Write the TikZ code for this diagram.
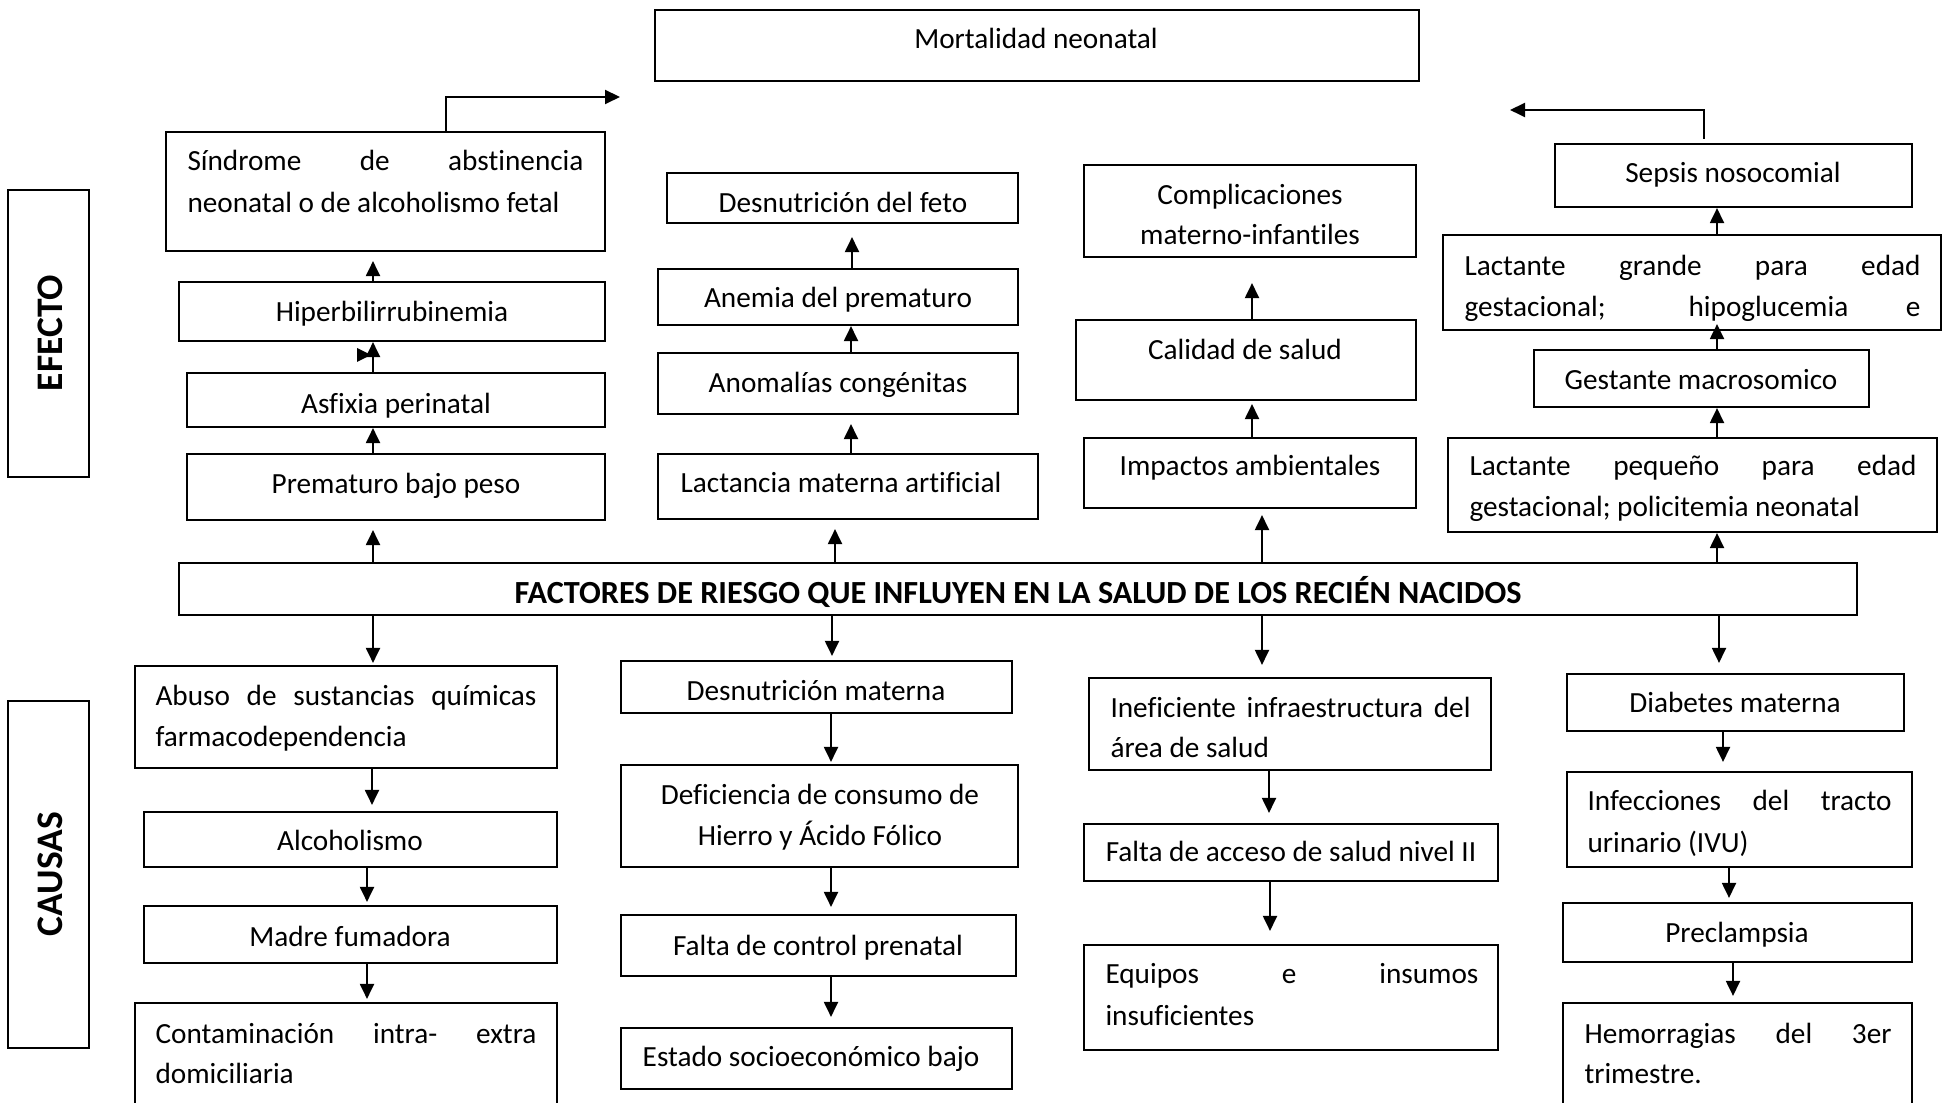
\documentclass[tikz,border=0pt]{standalone}
\usepackage{fontspec}
\setmainfont[Ligatures=NoCommon]{Carlito}
\usetikzlibrary{arrows.meta,fit}
\tikzset{
  box/.style={draw, line width=0.85pt, inner sep=0pt},
  txt/.style={font=\fontsize{11.7}{14}\selectfont, inner sep=0pt, yshift=-1.6pt},
  side/.style={font=\fontsize{15}{17}\selectfont\bfseries, inner sep=0pt, rotate=90},
  arr/.style={line width=0.8pt, -{Triangle[length=6pt,width=5.6pt]}},
}
\newcommand\bx[5]{\node[box, fit={(#2,#3) (#4,#5)}] (#1) {};}
\newcommand\txc[4]{\node[txt, anchor=mid] (#1) at (#2,#3) {#4};}
\newcommand\txl[4]{\node[txt, anchor=mid west] (#1) at (#2,#3) {#4};}
\newcommand\txj[5]{\node[txt, anchor=mid west] (#1) at (#2,#3) {\makebox[#4][s]{#5}};}
\newcommand\arrUp[4]{\coordinate (ax) at (#3,0);
  \draw[arr, shorten >=#4] (#1.north -| ax) -- (#2.south -| ax);}
\newcommand\arrDn[4]{\coordinate (ax) at (#3,0);
  \draw[arr, shorten >=#4] (#1.south -| ax) -- (#2.north -| ax);}
\begin{document}
\begin{tikzpicture}[x=0.4pt,y=-0.4pt]
\useasboundingbox (0,0) rectangle (1944,1103);
\clip (0,0) rectangle (1944,1103);
% side labels
\bx{efecto}{8}{190}{89}{477}
\node[side] (efectot) at (50,333) {EFECTO};
\bx{causas}{8}{701}{89}{1048}
\node[side] (causast) at (50,874) {CAUSAS};
% top
\bx{mort}{655}{10}{1419}{81}
\txc{mortt}{1036}{39}{Mortalidad neonatal}
% column 1 effects
\bx{sind}{166}{132}{605}{251}
\txj{sind1}{187}{161}{158.4pt}{Síndrome de abstinencia}
\txl{sind2}{187}{203}{neonatal o de alcoholismo fetal}
\bx{hiper}{179}{282}{605}{341}
\txc{hipert}{392}{312}{Hiperbilirrubinemia}
\bx{asf}{187}{373}{605}{427}
\txc{asft}{396}{404}{Asfixia perinatal}
\bx{prem}{187}{454}{605}{520}
\txc{premt}{396}{484}{Prematuro bajo peso}
% column 2 effects
\bx{desfeto}{667}{173}{1018}{223}
\txc{desfetot}{843}{203}{Desnutrición del feto}
\bx{anem}{658}{269}{1018}{325}
\txc{anemt}{838}{298}{Anemia del prematuro}
\bx{anom}{658}{353}{1018}{414}
\txc{anomt}{838}{383}{Anomalías congénitas}
\bx{lact}{658}{454}{1038}{519}
\txc{lactt}{841}{483}{Lactancia materna artificial}
% column 3 effects
\bx{compl}{1084}{165}{1416}{257}
\txc{compl1}{1250}{195}{Complicaciones}
\txc{compl2}{1250}{235}{materno-infantiles}
\bx{cal}{1076}{320}{1416}{400}
\txc{calt}{1245}{350}{Calidad de salud}
\bx{imp}{1084}{438}{1416}{508}
\txc{impt}{1250}{466}{Impactos ambientales}
% column 4 effects
\bx{sepsis}{1555}{144}{1912}{207}
\txc{sepsist}{1733}{173}{Sepsis nosocomial}
\bx{lactg}{1443}{235}{1941}{330}
\txj{lactg1}{1464}{266}{182.4pt}{Lactante grande para edad}
\txj{lactg2}{1464}{307}{182.4pt}{gestacional; hipoglucemia e}
\bx{gest}{1534}{350}{1869}{407}
\txc{gestt}{1701}{380}{Gestante macrosomico}
\bx{lactp}{1448}{438}{1937}{532}
\txj{lactp1}{1469}{466}{178.8pt}{Lactante pequeño para edad}
\txl{lactp2}{1469}{507}{gestacional; policitemia neonatal}
% central
\bx{fact}{179}{563}{1857}{615}
\node[txt, font=\fontsize{12.9}{15}\selectfont\bfseries, anchor=mid] (factt) at (1018,594) {FACTORES DE RIESGO QUE INFLUYEN EN LA SALUD DE LOS RECIÉN NACIDOS};
% causes column 1
\bx{abuso}{135}{666}{557}{768}
\txj{abuso1}{155}{696}{152.4pt}{Abuso de sustancias químicas}
\txl{abuso2}{155}{737}{farmacodependencia}
\bx{alc}{144}{812}{557}{867}
\txc{alct}{350}{841}{Alcoholismo}
\bx{madre}{144}{906}{557}{963}
\txc{madret}{350}{937}{Madre fumadora}
\bx{cont}{135}{1003}{557}{1130}
\txj{cont1}{155}{1034}{152.4pt}{Contaminación intra- extra}
\txl{cont2}{155}{1074}{domiciliaria}
% causes column 2
\bx{desmat}{621}{661}{1012}{713}
\txc{desmatt}{816}{691}{Desnutrición materna}
\bx{def}{621}{765}{1018}{867}
\txc{def1}{820}{795}{Deficiencia de consumo de}
\txc{def2}{820}{836}{Hierro y Ácido Fólico}
\bx{falta}{621}{915}{1016}{976}
\txc{faltat}{818}{946}{Falta de control prenatal}
\bx{estado}{621}{1028}{1012}{1089}
\txc{estadot}{811}{1057}{Estado socioeconómico bajo}
% causes column 3
\bx{inef}{1089}{678}{1491}{770}
\txj{inef1}{1110}{708}{144pt}{Ineficiente infraestructura del}
\txl{inef2}{1110}{748}{área de salud}
\bx{acceso}{1084}{824}{1498}{881}
\txc{accesot}{1291}{852}{Falta de acceso de salud nivel II}
\bx{equipos}{1084}{945}{1498}{1050}
\txj{equipos1}{1105}{974}{149.2pt}{Equipos e insumos}
\txl{equipos2}{1105}{1016}{insuficientes}
% causes column 4
\bx{diab}{1567}{674}{1904}{731}
\txc{diabt}{1735}{703}{Diabetes materna}
\bx{inf}{1567}{772}{1912}{867}
\txj{inf1}{1587}{801}{121.6pt}{Infecciones del tracto}
\txl{inf2}{1587}{843}{urinario (IVU)}
\bx{precl}{1563}{903}{1912}{962}
\txc{preclt}{1737}{933}{Preclampsia}
\bx{hem}{1563}{1003}{1912}{1130}
\txj{hem1}{1584}{1034}{122.8pt}{Hemorragias del 3er}
\txl{hem2}{1584}{1074}{trimestre.}
% upward connectors
\arrUp{fact}{prem}{373}{3.6pt}
\arrUp{prem}{asf}{373}{0pt}
\arrUp{asf}{hiper}{373}{0pt}
\arrUp{hiper}{sind}{373}{3.6pt}
\arrUp{fact}{lact}{835}{3.6pt}
\arrUp{lact}{anom}{851}{3.6pt}
\arrUp{anom}{anem}{851}{0pt}
\arrUp{anem}{desfeto}{852}{5.2pt}
\arrUp{fact}{imp}{1262}{2.4pt}
\arrUp{imp}{cal}{1252}{1.2pt}
\arrUp{cal}{compl}{1252}{10pt}
\arrUp{fact}{lactp}{1717}{0pt}
\arrUp{lactp}{gest}{1717}{0pt}
\arrUp{gest}{lactg}{1717}{-2.8pt}
\arrUp{lactg}{sepsis}{1717}{0pt}
% stray arrowhead mark
\fill (357,348) -- (371,355) -- (357,362) -- cycle;
% elbow connectors toward Mortalidad
\coordinate (sxl) at (446,0);
\coordinate (mL) at (620,97);
\draw[arr] (sind.north -| sxl) |- (mL);
\coordinate (sxr) at (1704,0);
\coordinate (mR) at (1510,110);
\draw[arr, shorten <=1.6pt] (sepsis.north -| sxr) |- (mR);
% downward connectors
\arrDn{fact}{abuso}{373}{0.8pt}
\arrDn{abuso}{alc}{372}{2.4pt}
\arrDn{alc}{madre}{367}{1.2pt}
\arrDn{madre}{cont}{367}{1.2pt}
\arrDn{fact}{desmat}{832}{1.6pt}
\arrDn{desmat}{def}{831}{0.8pt}
\arrDn{def}{falta}{831}{2.8pt}
\arrDn{falta}{estado}{831}{4pt}
\arrDn{fact}{inef}{1262}{4.8pt}
\arrDn{inef}{acceso}{1269}{4pt}
\arrDn{acceso}{equipos}{1270}{5.2pt}
\arrDn{fact}{diab}{1719}{4pt}
\arrDn{diab}{inf}{1723}{3.6pt}
\arrDn{inf}{precl}{1729}{1.6pt}
\arrDn{precl}{hem}{1733}{2.4pt}
\end{tikzpicture}
\end{document}
